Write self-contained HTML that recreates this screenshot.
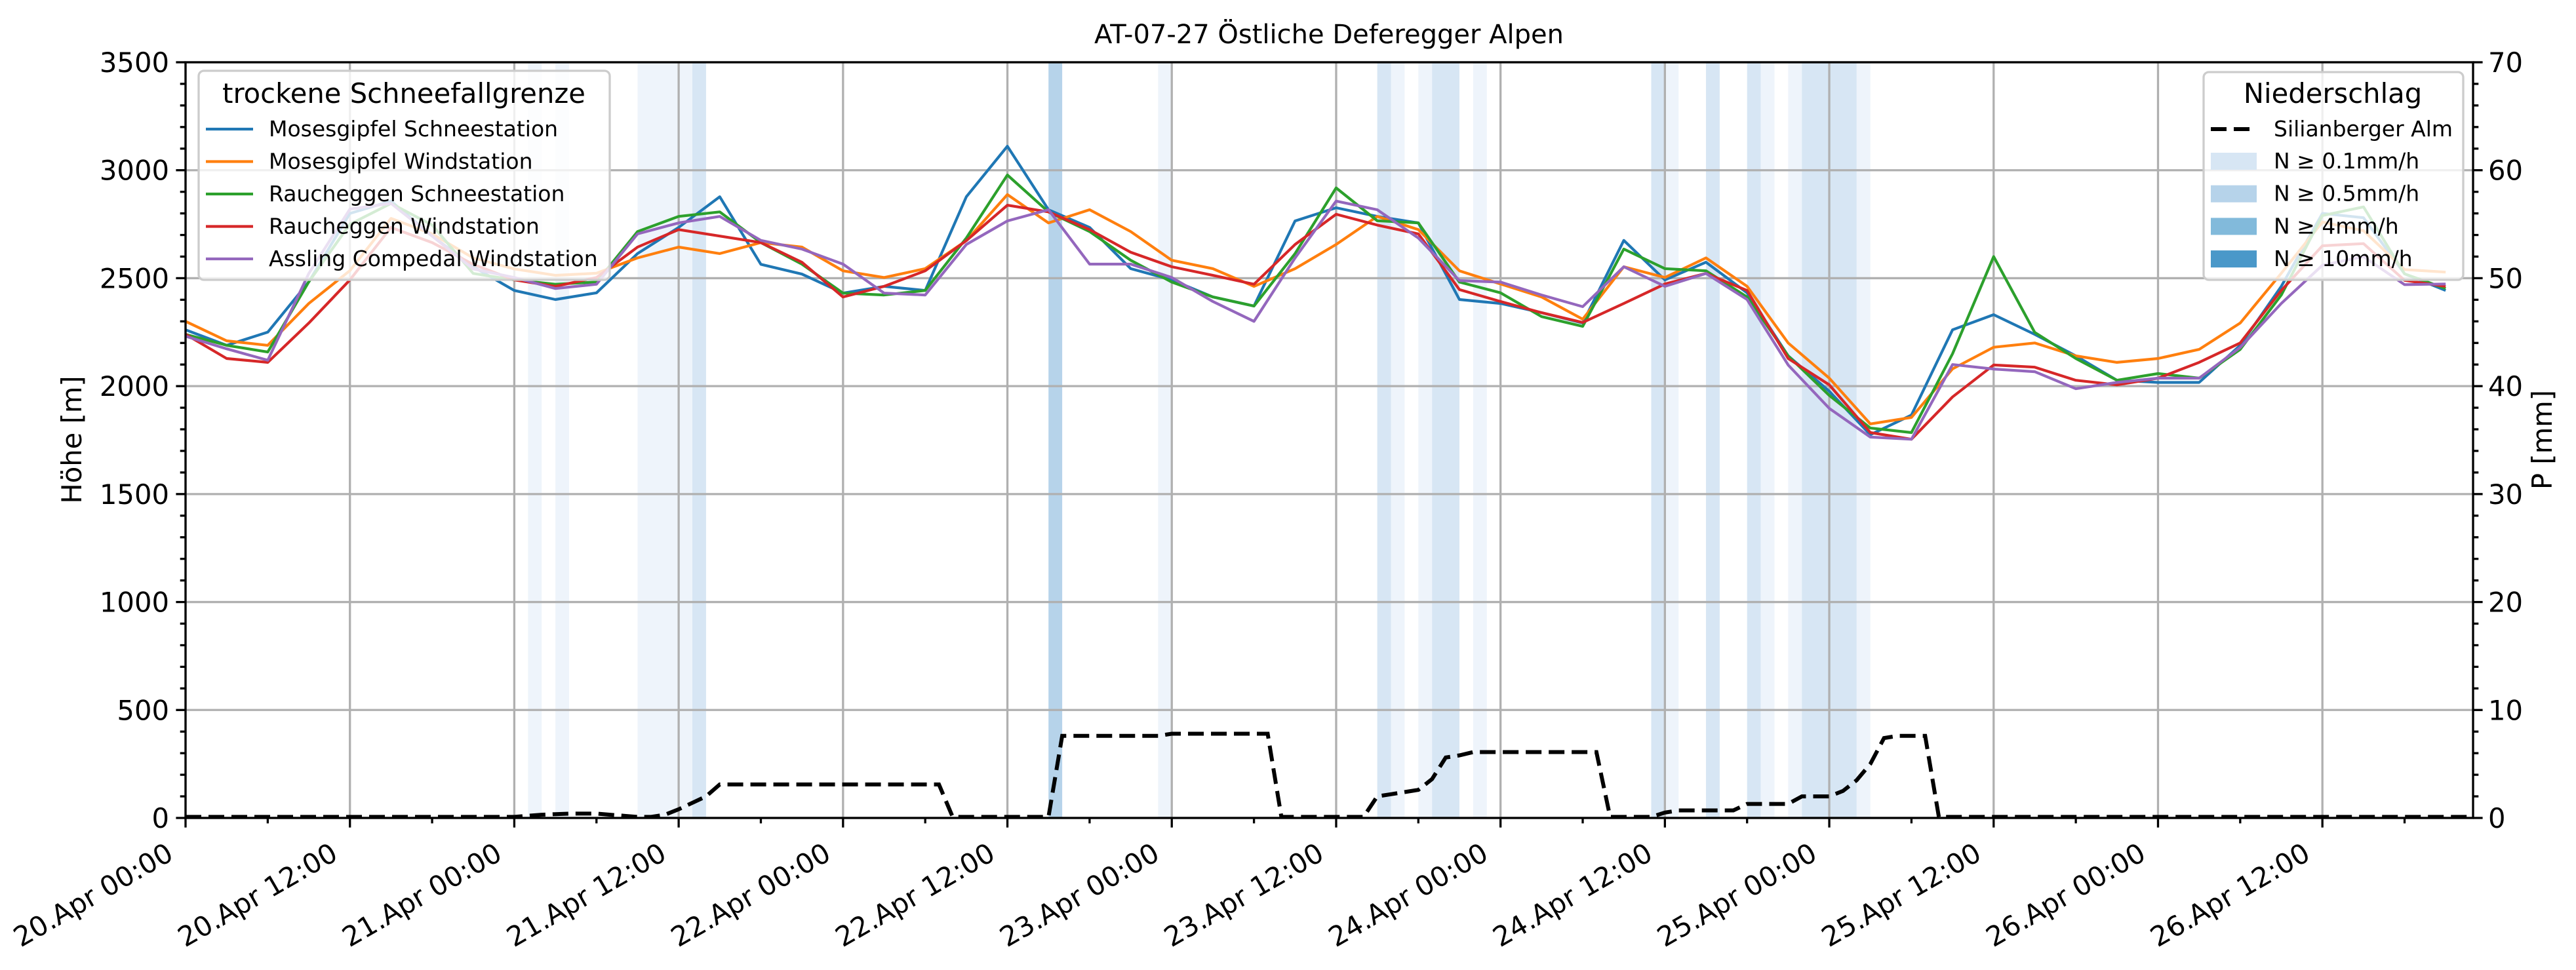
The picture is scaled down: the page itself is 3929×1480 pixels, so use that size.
<!DOCTYPE html>
<html><head><meta charset="utf-8"><style>
html,body{margin:0;padding:0;background:#fff}
svg{display:block;font-family:"DejaVu Sans","Liberation Sans",sans-serif}
</style></head><body>
<svg id="chart" width="3929" height="1480" viewBox="0 0 3929 1480" xmlns="http://www.w3.org/2000/svg">
<rect width="3929" height="1480" fill="#fff"/>
<text x="2027" y="66" font-size="40" text-anchor="middle">AT-07-27 Östliche Deferegger Alpen</text>
<g id="bands"></g><g id="grid"></g><g id="precip"></g><g id="series"></g><g id="axes"></g><g id="legends"></g>
</svg>
<script>
const stepHours = 3;
const tickLabels = ["20.Apr 00:00","20.Apr 12:00","21.Apr 00:00","21.Apr 12:00","22.Apr 00:00","22.Apr 12:00","23.Apr 00:00","23.Apr 12:00","24.Apr 00:00","24.Apr 12:00","25.Apr 00:00","25.Apr 12:00","26.Apr 00:00","26.Apr 12:00"];
const leftTicks = [0,500,1000,1500,2000,2500,3000,3500];
const rightTicks = [0,10,20,30,40,50,60,70];
const seriesNames = ["Mosesgipfel Schneestation","Mosesgipfel Windstation","Raucheggen Schneestation","Raucheggen Windstation","Assling Compedal Windstation"];
const mosesSchnee = [2261,2189,2250,2483,2800,2857,2695,2553,2443,2401,2432,2614,2735,2877,2564,2519,2431,2462,2443,2877,3111,2817,2735,2544,2492,2413,2371,2765,2826,2786,2756,2401,2383,2340,2292,2675,2492,2574,2432,2140,1976,1775,1866,2261,2331,2240,2140,2027,2017,2017,2189,2462,2800,2780,2520,2443];
const mosesWind = [2300,2210,2189,2383,2535,2777,2705,2594,2543,2513,2523,2594,2644,2614,2665,2644,2534,2503,2544,2674,2887,2756,2817,2716,2583,2544,2462,2544,2656,2786,2725,2534,2473,2413,2310,2553,2503,2594,2462,2200,2037,1825,1855,2080,2180,2200,2140,2110,2128,2170,2292,2523,2760,2720,2540,2528];
const rauchSchnee = [2240,2189,2158,2483,2750,2846,2746,2522,2492,2472,2482,2716,2786,2807,2665,2565,2431,2422,2443,2686,2978,2807,2716,2583,2482,2413,2371,2614,2918,2766,2756,2482,2432,2322,2277,2635,2544,2534,2413,2140,1957,1806,1785,2150,2600,2249,2128,2027,2058,2037,2170,2422,2790,2830,2520,2452];
const rauchWind = [2240,2128,2110,2292,2492,2735,2665,2564,2492,2462,2503,2644,2725,2695,2665,2574,2413,2462,2534,2674,2838,2807,2725,2620,2553,2513,2472,2656,2796,2746,2705,2447,2392,2340,2295,2383,2473,2522,2443,2128,2006,1785,1754,1950,2098,2088,2027,2006,2037,2110,2200,2443,2650,2660,2490,2462];
const assling = [2231,2173,2120,2522,2820,2846,2695,2543,2503,2452,2472,2705,2756,2786,2675,2635,2565,2431,2422,2656,2765,2817,2565,2565,2503,2392,2300,2594,2857,2817,2686,2489,2482,2422,2368,2553,2462,2522,2401,2098,1897,1764,1754,2100,2079,2067,1988,2017,2037,2037,2179,2383,2560,2600,2470,2473];
const precipHourly = [0.1,0.1,0.1,0.1,0.1,0.1,0.1,0.1,0.1,0.1,0.1,0.1,0.1,0.1,0.1,0.1,0.1,0.1,0.1,0.1,0.1,0.1,0.1,0.1,0.1,
0.2,0.3,0.35,0.4,0.4,0.4,0.3,0.2,0.1,0.1,0.3,0.8,1.4,2.0,3.1,
3.1,3.1,3.1,3.1,3.1,3.1,3.1,3.1,3.1,3.1,3.1,3.1,3.1,3.1,3.1,3.1,
0.1,0.1,0.1,0.1,0.1,0.1,0.1,0.1,7.6,7.6,7.6,7.6,7.6,7.6,7.6,7.6,
7.8,7.8,7.8,7.8,7.8,7.8,7.8,7.8,0.1,0.1,0.1,0.1,0.1,0.1,0.1,
2.0,2.2,2.4,2.6,3.6,5.6,5.8,6.1,6.1,6.1,6.1,6.1,6.1,6.1,6.1,6.1,6.1,
0.1,0.1,0.1,0.1,0.5,0.7,0.7,0.7,0.7,0.7,1.3,1.3,1.3,1.3,2.0,2.0,2.0,2.5,3.5,5.0,7.4,7.6,7.6,7.6,
0.1,0.1,0.1,0.1,0.1,0.1,0.1,0.1,0.1,0.1,0.1,0.1,0.1,0.1,0.1,0.1,0.1,0.1,0.1,0.1,
0.1,0.1,0.1,0.1,0.1,0.1,0.1,0.1,0.1,0.1,0.1,0.1,0.1,0.1,0.1,0.1,0.1,0.1,0.1,0.1];
const bandStart = [25,27,33,37,63,71,87,88,90,91,94,107,108,111,114,115,117,118,122];
const bandEnd   = [26,28,37,38,64,72,88,89,91,93,95,108,109,112,115,116,118,122,123];
const bandLevel = [0,0,0,1,2,0,1,0,0,1,0,1,0,1,1,0,0,1,0];

const NS="http://www.w3.org/2000/svg";
const L=283,R=3772,T=95,B=1248,HMAX=167;
const xh=h=>L+h*(R-L)/HMAX;
const yl=v=>B-v*(B-T)/3500;
const yr=v=>B-v*(B-T)/70;
function mk(tag,attrs,parent,txt){const e=document.createElementNS(NS,tag);for(const k in attrs)e.setAttribute(k,attrs[k]);if(txt!==undefined)e.textContent=txt;parent.appendChild(e);return e;}
const G=id=>document.getElementById(id);
const bandColors=["#eef4fb","#d7e6f4","#b6d3ea"];

bandStart.forEach((s,i)=>{
  const r=mk('rect',{x:xh(s),y:T,width:xh(bandEnd[i])-xh(s),height:B-T,fill:bandColors[bandLevel[i]]},G('bands'));
  
  
});
// grid
tickLabels.forEach((t,i)=>{const g=mk('line',{x1:xh(i*12),x2:xh(i*12),y1:T,y2:B,stroke:'#b0b0b0','stroke-width':3.3},G('grid'));
  
  });
leftTicks.forEach(v=>{const g=mk('line',{x1:L,x2:R,y1:yl(v),y2:yl(v),stroke:'#b0b0b0','stroke-width':3.3},G('grid'));
  
  });
// precip
let pd=precipHourly.map((v,h)=>(h?'L':'M')+xh(h).toFixed(1)+','+yr(v).toFixed(1)).join(' ');
const pl=mk('path',{d:pd,fill:'none',stroke:'#000','stroke-width':6,'stroke-dasharray':'24,11'},G('precip'));


// series
const allSeries=[mosesSchnee,mosesWind,rauchSchnee,rauchWind,assling];
const colors=["#1f77b4","#ff7f0e","#2ca02c","#d62728","#9467bd"];
const snames=["series-mosesgipfel-schneestation","series-mosesgipfel-windstation","series-raucheggen-schneestation","series-raucheggen-windstation","series-assling-compedal-windstation"];
allSeries.forEach((arr,si)=>{
  const d=arr.map((v,i)=>(i?'L':'M')+xh(i*stepHours).toFixed(1)+','+yl(v).toFixed(1)).join(' ');
  const p=mk('path',{d:d,fill:'none',stroke:colors[si],'stroke-width':4.2,'stroke-linejoin':'round'},G('series'));
  
  
});
// axes
const A=G('axes');
mk('rect',{x:L,y:T,width:R-L,height:B-T,fill:'none',stroke:'#000','stroke-width':3.3},A);
for(let h=0;h<=HMAX;h+=6){const major=h%12===0;mk('line',{x1:xh(h),x2:xh(h),y1:B,y2:B+(major?14.6:8.3),stroke:'#000','stroke-width':3.3},A);}
tickLabels.forEach((t,i)=>{const x=xh(i*12)-16,y=1310;
  const e=mk('text',{x:x,y:y,'font-size':41.7,'text-anchor':'end',transform:`rotate(-30 ${x} ${y})`},A,t);
  
  });
for(let v=0;v<=3500;v+=100){const major=v%500===0;mk('line',{x1:L,x2:L-(major?14.6:8.3),y1:yl(v),y2:yl(v),stroke:'#000','stroke-width':3.3},A);}
leftTicks.forEach(v=>{const e=mk('text',{x:258,y:yl(v)+15,'font-size':41.7,'text-anchor':'end'},A,String(v));
  
  });
for(let v=0;v<=70;v+=2){const major=v%10===0;mk('line',{x1:R,x2:R+(major?14.6:8.3),y1:yr(v),y2:yr(v),stroke:'#000','stroke-width':3.3},A);}
rightTicks.forEach(v=>{const e=mk('text',{x:3795,y:yr(v)+15,'font-size':41.7,'text-anchor':'start'},A,String(v));
  
  });
const yt=mk('text',{x:124,y:671,'font-size':41.7,'text-anchor':'middle',transform:'rotate(-90 124 671)'},A,'Höhe [m]');


const yt2=mk('text',{x:3892,y:671,'font-size':41.7,'text-anchor':'middle',transform:'rotate(-90 3892 671)'},A,'P [mm]');


// legends
const LG=G('legends');
const l1=mk('g',{},LG);


mk('rect',{x:303,y:108,width:627,height:319,rx:8,fill:'#fff','fill-opacity':0.8,stroke:'#cccccc','stroke-width':3.3},l1);
mk('text',{x:616,y:157,'font-size':41.7,'text-anchor':'middle'},l1,'trockene Schneefallgrenze');
seriesNames.forEach((n,i)=>{const y=197+i*49.5;
  mk('line',{x1:314,x2:386,y1:y,y2:y,stroke:colors[i],'stroke-width':4.2},l1);
  const t=mk('text',{x:410,y:y+11,'font-size':33},l1,n);
  
  });
const l2=mk('g',{},LG);


mk('rect',{x:3361,y:110,width:396,height:317,rx:8,fill:'#fff','fill-opacity':0.8,stroke:'#cccccc','stroke-width':3.3},l2);
mk('text',{x:3558,y:157,'font-size':41.7,'text-anchor':'middle'},l2,'Niederschlag');
mk('line',{x1:3372,x2:3442,y1:197,y2:197,stroke:'#000','stroke-width':6,'stroke-dasharray':'24,11'},l2);
const t0=mk('text',{x:3468,y:208,'font-size':33},l2,'Silianberger Alm');


const patchCols=["#d7e6f4","#b6d3ea","#82badb","#4a98c9"];
const patchLabels=["N ≥ 0.1mm/h","N ≥ 0.5mm/h","N ≥ 4mm/h","N ≥ 10mm/h"];
patchLabels.forEach((n,i)=>{const y=246+i*49.7;
  mk('rect',{x:3372,y:y-13,width:70,height:26,fill:patchCols[i]},l2);
  const t=mk('text',{x:3468,y:y+11,'font-size':33},l2,n);
  
  });
</script>
</body></html>
